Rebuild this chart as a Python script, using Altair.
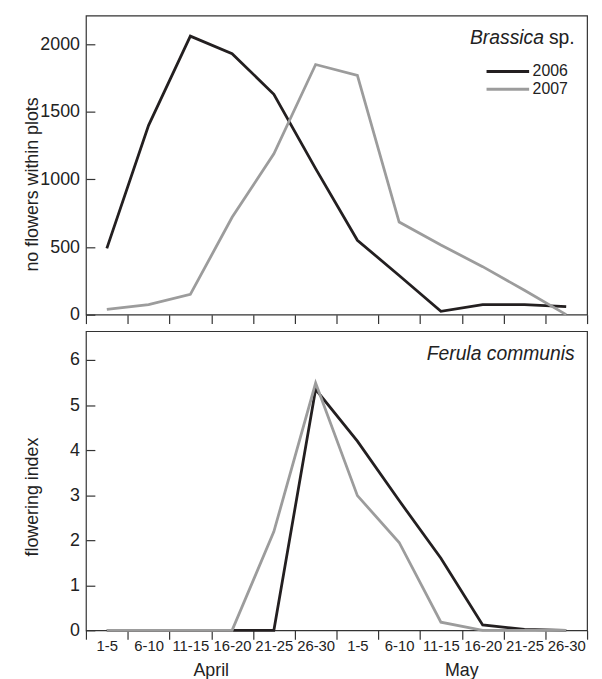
import altair as alt
import pandas as pd

periods = ["1-5", "6-10", "11-15", "16-20", "21-25", "26-30"]
months = ["April", "May"]
keys = [f"{m} {p}" for m in months for p in periods]

years = ["2006", "2007"]
brassica_2006 = [490, 1400, 2060, 1930, 1630, 1080, 550, 290, 25, 75, 75, 60]
brassica_2007 = [40, 75, 150, 720, 1190, 1850, 1770, 685, 515, 355, 180, 0]
ferula_2006 = [0, 0, 0, 0, 0, 5.35, 4.2, 2.88, 1.6, 0.12, 0.02, 0]
ferula_2007 = [0, 0, 0, 0, 2.19, 5.49, 2.99, 1.95, 0.18, 0, 0, 0]

top_ticks = [0, 500, 1000, 1500, 2000]
bottom_ticks = [0, 1, 2, 3, 4, 5, 6]
top_label = ["Brassica", "sp."]
bottom_label = ["Ferula communis"]

top_title = "no flowers within plots"
bottom_title = "flowering index"

colors = ["#231f20", "#9c9c9c"]

W, H = 506, 302
FONT = "Liberation Sans"
FRAME = "#333333"
TXT = "#222222"


def long(a, b):
    rows = []
    for i, k in enumerate(keys):
        rows.append({"key": k, "year": years[0], "v": a[i]})
    for i, k in enumerate(keys):
        rows.append({"key": k, "year": years[1], "v": b[i]})
    return pd.DataFrame(rows)


df_top = long(brassica_2006, brassica_2007)
df_bot = long(ferula_2006, ferula_2007)

xscale = alt.Scale(type="band", domain=keys, paddingInner=0, paddingOuter=0)


def x_enc(show_labels):
    return alt.X(
        "key:N",
        scale=xscale,
        bandPosition=0.5,
        sort=keys,
        axis=alt.Axis(
            title=None,
            tickBand="extent",
            tickSize=9,
            tickColor=FRAME,
            tickWidth=1.2,
            domain=False,
            labels=show_labels,
            labelAngle=0,
            labelFont=FONT,
            labelFontSize=15,
            labelColor=TXT,
            labelPadding=-1,
            labelBaseline="top",
            labelExpr="split(datum.label, ' ')[1]",
            labelOverlap=False,
        ),
    )


def y_axis(title, values, title_y):
    return alt.Axis(
        title=title,
        values=values,
        format="d",
        grid=False,
        domain=False,
        offset=-9,
        tickSize=9,
        tickColor=FRAME,
        tickWidth=1.2,
        labelFont=FONT,
        labelFontSize=18,
        labelColor=TXT,
        labelPadding=6.5,
        titleFont=FONT,
        titleFontSize=18,
        titleFontWeight="normal",
        titleColor=TXT,
        titleX=-58,
        titleY=title_y,
        titleBaseline="alphabetic",
        titleAlign="center",
    )


color_scale = alt.Scale(domain=years, range=colors)

top_lines = alt.Chart(df_top).mark_line(strokeWidth=2.8, strokeJoin="miter").encode(
    x=x_enc(False),
    y=alt.Y("v:Q", scale=alt.Scale(domain=[0, 2212], nice=False, zero=True),
            axis=y_axis(top_title, top_ticks, 170)),
    color=alt.Color("year:N", scale=color_scale, legend=None),
    order=alt.Order("year:N"),
)

# legend drawn from the years list through its own point scale
leg_df = pd.DataFrame({"year": years})
leg_y = alt.Y("year:N", scale=alt.Scale(type="point", domain=years, range=[56.5, 74.5], padding=0), axis=None)
leg_lines = alt.Chart(leg_df).mark_rule(strokeWidth=3).encode(
    x=alt.value(404.5), x2=alt.value(447.5), y=leg_y,
    color=alt.Color("year:N", scale=color_scale, legend=None),
)
leg_text = alt.Chart(leg_df).mark_text(
    font=FONT, fontSize=16, align="left", baseline="middle", color=TXT
).encode(x=alt.value(451), y=leg_y, text="year:N")

lab_df1 = pd.DataFrame({"t": [top_label[0]]})
lab_df2 = pd.DataFrame({"t": [top_label[1]]})
top_lab1 = alt.Chart(lab_df1).mark_text(
    font=FONT, fontSize=19.5, fontStyle="italic", align="right", baseline="alphabetic", color=TXT
).encode(text="t:N", x=alt.value(W - 43.5), y=alt.value(29))
top_lab2 = alt.Chart(lab_df2).mark_text(
    font=FONT, fontSize=19.5, align="right", baseline="alphabetic", color=TXT
).encode(text="t:N", x=alt.value(W - 12.5), y=alt.value(29))

top = alt.layer(top_lines, top_lab1, top_lab2, leg_lines, leg_text).resolve_scale(
    y="independent"
).properties(width=W, height=H)

bot_lines = alt.Chart(df_bot).mark_line(strokeWidth=2.8, strokeJoin="miter").encode(
    x=x_enc(True),
    y=alt.Y("v:Q", scale=alt.Scale(domain=[0, 6.64], nice=False, zero=True),
            axis=y_axis(bottom_title, bottom_ticks, 167)),
    color=alt.Color("year:N", scale=color_scale, legend=None),
    order=alt.Order("year:N"),
)

bot_lab = alt.Chart(pd.DataFrame({"t": bottom_label})).mark_text(
    font=FONT, fontSize=19.5, fontStyle="italic", align="right", baseline="alphabetic", color=TXT
).encode(text="t:N", x=alt.value(W - 12.5), y=alt.value(29))

month_df = pd.DataFrame({"m": months})
month_text = alt.Chart(month_df).mark_text(
    font=FONT, fontSize=18, align="center", baseline="alphabetic", color=TXT
).encode(
    x=alt.X("m:N", sort=months, scale=alt.Scale(type="band", paddingInner=0, paddingOuter=0), axis=None),
    text="m:N",
    y=alt.value(H + 46),
)

bottom = alt.layer(bot_lines, bot_lab, month_text).resolve_scale(x="independent").properties(width=W, height=H)

chart = alt.vconcat(top, bottom, spacing=16.7, bounds="flush").resolve_scale(
    color="independent"
).properties(
    padding={"left": 14.7, "top": 3.3, "right": 5, "bottom": 12}
).configure(
    background="white"
).configure_view(
    stroke=FRAME, strokeWidth=1.2
)

chart.save("out.html", embed_options={"renderer": "svg", "actions": False})
